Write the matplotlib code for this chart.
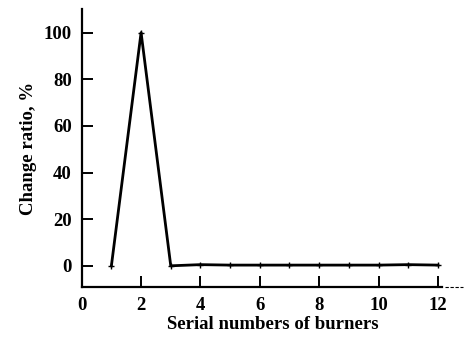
import matplotlib
matplotlib.use("Agg")
import matplotlib.pyplot as plt

burners = [1, 2, 3, 4, 5, 6, 7, 8, 9, 10, 11, 12]
change_ratio = [0, 100, 0, 0.5, 0.3, 0.3, 0.3, 0.3, 0.3, 0.3, 0.5, 0.3]
xticks = [0, 2, 4, 6, 8, 10, 12]
yticks = [0, 20, 40, 60, 80, 100]

plt.rcParams['font.family'] = ['Liberation Serif', 'DejaVu Serif']
plt.rcParams['font.weight'] = 'bold'

fig = plt.figure(figsize=(4.68, 3.37), dpi=100)
ax = fig.add_axes([0.1746, 0.149, 0.815, 0.8233])
ax.plot(burners, change_ratio, color='black', lw=2.0, marker='+', ms=4, mew=1)

ax.set_xlim(0, 12.85)
ax.set_ylim(-9, 110)
ax.set_xticks(xticks)
ax.set_yticks(yticks)
for s in ['top', 'right']:
    ax.spines[s].set_visible(False)
ax.spines['left'].set_linewidth(1.6)
ax.spines['bottom'].set_linewidth(1.6)
ax.spines['bottom'].set_bounds(0, 12.15)
ax.plot([12.25, 12.85], [-9, -9], color='black', lw=0.8, ls=(0, (3, 1.5)), clip_on=False)
ax.tick_params(direction='in', length=8, width=1.4, labelsize=13.5, pad=7)
ax.set_xlabel('Serial numbers of burners', fontsize=13.5, fontweight='bold', labelpad=2)
ax.set_ylabel('Change ratio, %', fontsize=13.5, fontweight='bold', labelpad=5)
for lbl in ax.get_xticklabels() + ax.get_yticklabels():
    lbl.set_fontweight('bold')

fig.savefig('out.png', dpi=100)
